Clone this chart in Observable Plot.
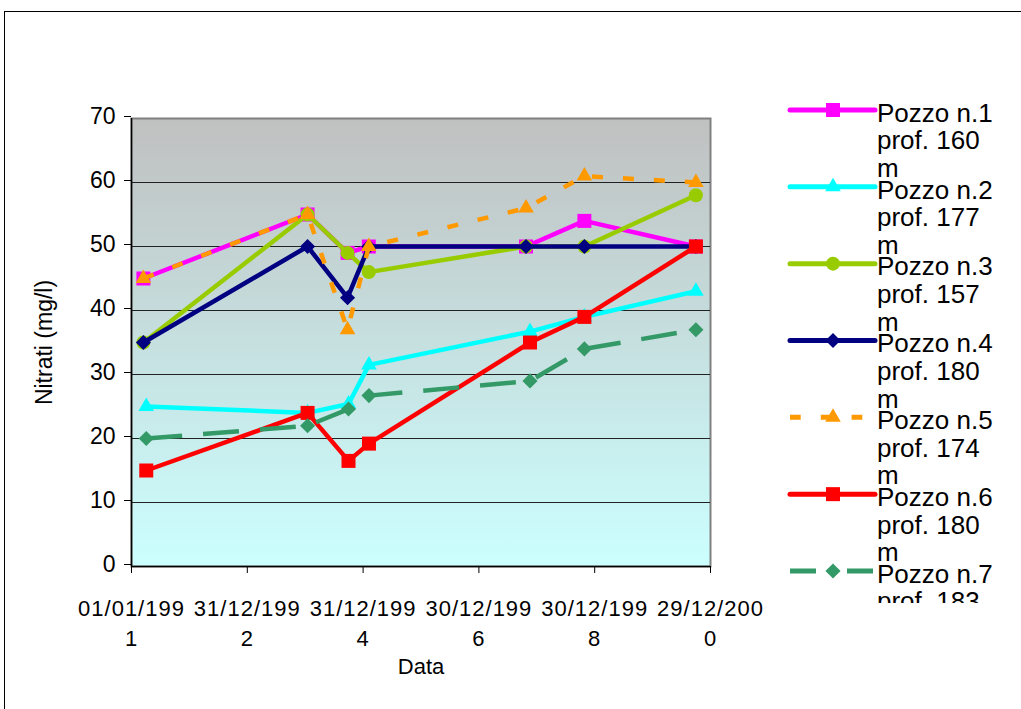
<!DOCTYPE html>
<html>
<head>
<meta charset="utf-8">
<script src="https://cdn.jsdelivr.net/npm/d3@7"></script>
<script src="https://cdn.jsdelivr.net/npm/@observablehq/plot@0.6"></script>
<style>
html, body { margin: 0; padding: 0; background: #fff; overflow: hidden; }
#wrap { position: relative; width: 1021px; height: 709px; font-family: "Liberation Sans", Arial, sans-serif; }
#chart { position: absolute; left: 0; top: 0; }
#legend { position: absolute; left: 780px; top: 90px; overflow: hidden; }
#border { position: absolute; left: 4px; top: 11px; width: 1100px; height: 900px; border: 1.5px solid #000; box-sizing: border-box; pointer-events: none; }
</style>
</head>
<body>
<div id="wrap">
  <div id="chart"></div>
  <svg id="legend"></svg>
  <div id="border"></div>
</div>
<script>
// ---------- data ----------
const seriesNames = [
  "Pozzo n.1 prof. 160 m",
  "Pozzo n.2 prof. 177 m",
  "Pozzo n.3 prof. 157 m",
  "Pozzo n.4 prof. 180 m",
  "Pozzo n.5 prof. 174 m",
  "Pozzo n.6 prof. 180 m",
  "Pozzo n.7 prof. 183 m"
];
const datesA = ["1991-03-17", "1994-01-15", "1994-09-24", "1995-02-05", "1997-10-23", "1998-10-26", "2000-09-28"];
const datesB = ["1991-04-04", "1994-01-15", "1994-09-30", "1995-02-06", "1997-11-17", "1998-10-26", "2000-09-28"];
const pozzo1 = [45, 55, 49, 50, 50, 54, 50];
const pozzo2 = [25, 24, 25.4, 31.5, 36.7, 39, 43];
const pozzo3 = [35, 55, 49, 46, 50, 50, 58];
const pozzo4 = [35, 50, 42, 50, 50, 50, 50];
const pozzo5 = [45, 55, 37, 50, 56, 61, 60];
const pozzo6 = [15, 24, 16.5, 19.2, 35, 39, 50];
const pozzo7 = [20, 22, 24.6, 26.7, 29, 34, 37];
const xDomain = ["1991-01-01", "2000-12-29"];
const xTickDates = ["1991-01-01", "1992-12-31", "1994-12-31", "1996-12-30", "1998-12-30", "2000-12-29"];
const xTickLabels = ["01/01/1991", "31/12/1992", "31/12/1994", "30/12/1996", "30/12/1998", "29/12/2000"];
const yTicks = [0, 10, 20, 30, 40, 50, 60, 70];

// ---------- styles ----------
const styles = [
  {color: "#ff00ff", symbol: "square",   d3sym: d3.symbolSquare,   r: 7.9, dash: null,    legDash: null},
  {color: "#00ffff", symbol: "triangle", d3sym: d3.symbolTriangle, r: 5.8, dash: null,    legDash: null},
  {color: "#99cc00", symbol: "circle",   d3sym: d3.symbolCircle,   r: 7.0, dash: null,    legDash: null},
  {color: "#000080", symbol: "diamond2", d3sym: d3.symbolDiamond2, r: 6.8, dash: null,    legDash: null},
  {color: "#ff9900", symbol: "triangle", d3sym: d3.symbolTriangle, r: 5.8, dash: "11,20", legDash: "10.7,20.1"},
  {color: "#ff0000", symbol: "square",   d3sym: d3.symbolSquare,   r: 7.9, dash: null,    legDash: null},
  {color: "#339966", symbol: "diamond2", d3sym: d3.symbolDiamond2, r: 6.8, dash: "36,21", legDash: "26,31"}
];

const toDate = d3.utcParse("%Y-%m-%d");
const seriesDefs = [
  {dates: datesA, values: pozzo1},
  {dates: datesB, values: pozzo2},
  {dates: datesA, values: pozzo3},
  {dates: datesA, values: pozzo4},
  {dates: datesA, values: pozzo5},
  {dates: datesB, values: pozzo6},
  {dates: datesB, values: pozzo7}
];
const rows = seriesDefs.flatMap((s, i) =>
  s.values.map((v, j) => ({series: seriesNames[i], date: toDate(s.dates[j]), value: v})));

const tickLabelMap = new Map(xTickDates.map((d, i) => [+toDate(d), xTickLabels[i]]));
// the labels wrap after the 9th character, as in the reference
const wrapLabel = s => s.slice(0, 9) + "\n" + s.slice(9);

const seriesMarks = seriesNames.flatMap((name, i) => {
  const st = styles[i];
  const data = rows.filter(r => r.series === name);
  return [
    Plot.line(data, {x: "date", y: "value", stroke: st.color, strokeWidth: 4.5,
      strokeDasharray: st.dash || undefined, strokeLinejoin: "round",
      strokeLinecap: st.dash ? "butt" : "round"}),
    Plot.dot(data, {x: "date", y: "value", symbol: st.symbol, r: st.r, fill: st.color, stroke: "none"})
  ];
});

const gradientDefs = () => {
  const defs = d3.create("svg:defs");
  const g = defs.append("linearGradient").attr("id", "bgGrad")
    .attr("x1", 0).attr("y1", 0).attr("x2", 0).attr("y2", 1);
  g.append("stop").attr("offset", "0%").attr("stop-color", "#c0c0c0");
  g.append("stop").attr("offset", "100%").attr("stop-color", "#ccffff");
  return defs.node();
};

const chart = Plot.plot({
  width: 1021,
  height: 709,
  marginLeft: 131,
  marginRight: 311,
  marginTop: 118,
  marginBottom: 143,
  style: {fontFamily: "'Liberation Sans', Arial, sans-serif", color: "#000", background: "transparent", overflow: "visible"},
  x: {type: "utc", domain: xDomain.map(toDate)},
  y: {domain: [0, 70]},
  marks: [
    gradientDefs,
    Plot.frame({fill: "url(#bgGrad)", stroke: "#808080", strokeWidth: 2}),
    Plot.gridY({ticks: yTicks.filter(v => v > 0 && v < 70), stroke: "#222", strokeOpacity: 1, strokeWidth: 1}),
    Plot.ruleX([toDate(xDomain[0])], {stroke: "#000", strokeWidth: 1.5}),
    Plot.ruleY([0], {stroke: "#000", strokeWidth: 1.5}),
    Plot.axisY({ticks: yTicks, tickSize: 7, tickPadding: 9, fontSize: 23, dy: -2,
      stroke: "#000", label: "Nitrati (mg/l)", labelAnchor: "center", labelArrow: "none", labelOffset: 96}),
    Plot.axisX({ticks: xTickDates.map(toDate), tickFormat: d => wrapLabel(tickLabelMap.get(+d)),
      tickSize: 7, tickPadding: 21, fontSize: 22, lineHeight: 1.36, stroke: "#000",
      label: "Data", labelAnchor: "center", labelArrow: "none", labelOffset: 107}),
    ...seriesMarks
  ]
});
document.getElementById("chart").appendChild(chart);
// slight letter spacing for the x tick labels (they are wide in the reference)
d3.select(chart).selectAll("g[aria-label='x-axis tick label'] text").style("letter-spacing", "1px");

// ---------- legend ----------
const ox = 780, oy = 90;
const leg = d3.select("#legend").attr("width", 241).attr("height", 513)
  .style("font-family", "'Liberation Sans', Arial, sans-serif");
seriesNames.forEach((name, i) => {
  const st = styles[i];
  const cy = 110 + 76.83 * i - oy;
  const g = leg.append("g").attr("transform", `translate(0,${cy})`);
  g.append("line").attr("x1", 790 - ox).attr("x2", 875 - ox).attr("y1", 0).attr("y2", 0)
    .attr("stroke", st.color).attr("stroke-width", 5)
    .attr("stroke-linecap", st.legDash ? "butt" : "round")
    .attr("stroke-dasharray", st.legDash);
  g.append("path").attr("d", d3.symbol(st.d3sym, Math.PI * st.r * st.r)())
    .attr("transform", `translate(${833 - ox},0)`).attr("fill", st.color);
  const m = name.match(/^(Pozzo n\.\d) (prof\. \d+) (m)$/);
  const lines = m ? [m[1], m[2], m[3]] : [name];
  lines.forEach((ln, k) => {
    g.append("text").attr("x", 877 - ox).attr("y", 11.7 + 27.7 * k)
      .attr("font-size", 26).attr("fill", "#000").text(ln);
  });
});
</script>
</body>
</html>
